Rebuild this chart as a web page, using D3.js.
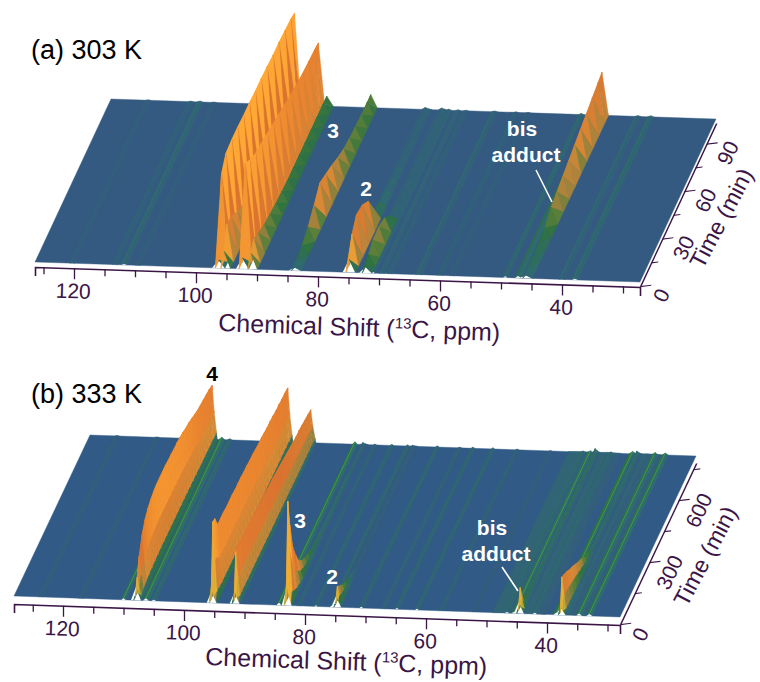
<!DOCTYPE html>
<html>
<head>
<meta charset="utf-8">
<script src="https://cdn.jsdelivr.net/npm/d3@7"></script>
<style>
  html, body { margin: 0; background: #fff; }
  text { font-family: "Liberation Sans", Arial, sans-serif; }
</style>
</head>
<body>
<div id="chart"></div>
<script>
// Tick labels
const ppmTicks = [125,120,115,110,105,100,95,90,85,80,75,70,65,60,55,50,45,40,35,30]
const timeTicksA = [0,15,30,45,60,75,90]
const timeTicksB = [0,150,300,450,600,750]

const timesA = [0,4,10,18,26,34,42,50,58,66,74,82,90,98,103]
const ppmA = [96.3,95.4,92.4,91.0,83.8,74.9,72.2,45.9]
const a965 = [8,88,99,100,100,99,99,98,98,97,96,96,95,94,92]
const a956 = [17,38,36,28,22,16,12,9,7,6,5,5,4,4,4]
const a925 = [11,99,93,87,85,82,79,76,73,70,68,66,65,64,63]
const a912 = [16,24,20,16,14,12,11,10,10,10,10,10,10,10,10]
const a838 = [3,5,9,15,24,34,30,26,21,17,15,14,13,13,13]
const a749 = [13,32,42,39,30,8,4,3,3,2,2,2,2,2,2]
const a722 = [6,12,17,18,14,3,2,2,2,2,2,2,2,2,2]
const a459 = [3,5,6,7,9,17,20,23,26,29,32,35,38,41,43]
// weak lines that stay flat in time: position, strength, half width in ppm
const streakPpmA = [120.3,113.3,111.8,109.5,71.0,69.5,68.2,63.5,60,58,49.3,47.2,40,37.9]
const streakHA = [1,1.5,2.5,1,3,2,1.5,2,1.5,1,3,5,2,3]
const streakWA = [0.4,0.4,0.5,0.4,0.4,0.4,0.4,0.5,0.4,0.4,0.4,0.5,0.5,0.5]

// Panel (b) 333 K
const timesB = [0,10,30,60,90,120,150,180,210,240,270,300,330,360,390,420,450,480,510,540,570,600,630,660,690,720,750,780]
const ppmB = [107.9,95.4,91.6,83.0,74.8,44.6,37.7]
const b1079 = [14,21,38,53,62,67,70,72,73,73,73,73,72,72,71,71,70,69,67,66,64,62,60,59,58,57,56,54]
const b954 = [12,79,78,66,66,66,65,65,65,64,64,64,63,63,62,62,61,60,60,59,58,58,57,56,56,55,55,54]
const b916 = [12,50,52,51,50,50,49,49,48,48,47,47,46,45,45,44,43,42,41,40,39,38,37,37,36,35,34,33]
const b830 = [18,102,74,46,32,20,14,10,8,6,5,4,4,3,3,3,3,3,3,3,3,3,2,2,2,2,2,2]
const b748 = [12,19,15,10,7,4,2,1,1,1,1,1,1,1,1,1,1,1,1,1,1,1,1,1,1,1,1,1]
const b446 = [12,24,8,6,5,5,4,4,4,4,4,4,4,4,4,4,4,4,4,4,4,4,4,4,4,4,4,4]
const b377 = [8,36,34,31,27,24,20,16,13,9,7,4,3,3,3,3,3,3,3,3,3,3,3,3,3,3,3,3]
const streakPpmB = [46.8,42.5,36,123.6,117,110,106.3,105,84.3,81,78.2,75.6,70.7,67,64.8,61.5,57.5,52,46.6,45.4,42,38.4,34.7,33]
const streakHB = [1.6,1.6,1.4,1,1,4,6,3,6,2,3,3,3,2,3,3,2,1,3,4,3,6,5,5]
const streakWB = [2.2,2.2,2.4,0.4,0.4,0.4,0.5,0.4,0.4,0.3,0.3,0.3,0.3,0.3,0.3,0.3,0.3,0.3,0.4,0.5,0.4,0.6,0.5,0.5]

// Colour follows the height of each facet
const colour = d3.scaleLinear()
  .domain([0,2,5,8,11,18,32,50,65])
  .range(['#355a82','#2f6b70','#2e7340','#5a7f3a','#a8823c','#d98a35','#da7230','#ef8c30','#ffa835'])
  .clamp(true)

const ink = '#3a1546'
const svg = d3.select('#chart').append('svg').attr('width', 760).attr('height', 682)

function drawPanel(p) {
  const g = svg.append('g')
  const x = d3.scaleLinear().domain([120,40]).range(p.xRange)
  const front = d3.scaleLinear().domain(p.frontX).range(p.frontY)
  const tx = d3.scaleLinear().domain([0,p.tMax]).range([0,p.depth[0]])
  const ty = d3.scaleLinear().domain([0,p.tMax]).range([0,p.depth[1]])
  const hy = d3.scaleLinear().domain([0,100]).range([0,100])
  const project = (ppm,t,h) => [x(ppm)+tx(t), front(x(ppm))+ty(t)-hy(h)]
  const poly = pts => 'M' + pts.map(d => d.join(',')).join('L') + 'Z'
  const face = (pts,c) => g.append('path').attr('d',poly(pts)).attr('fill',c).attr('stroke',c).attr('stroke-width',0.4)

  // flat sheet
  const ppmL = x.invert(p.frontX[0]), ppmR = x.invert(p.frontX[1])
  face([project(ppmL,0,0),project(ppmR,0,0),project(ppmR,p.tMax,0),project(ppmL,p.tMax,0)], p.sheet)

  // weak lines
  p.streakPpm.forEach((ppm,i) => {
    const h = p.streakH[i], w = p.streakW[i], z = h*0.4
    const a = project(ppm+w,0,0), b = project(ppm,0,z), c = project(ppm-w,0,0)
    const a2 = project(ppm+w,p.tMax,0), b2 = project(ppm,p.tMax,z), c2 = project(ppm-w,p.tMax,0)
    face([a,b,b2,a2], colour(h*0.8))
    face([b,c,c2,b2], colour(h*0.4))
    if (h >= 4 && p.hatch === 0) {
      g.append('line').attr('x1',b[0]).attr('y1',b[1]).attr('x2',b2[0]).attr('y2',b2[1])
        .attr('stroke','#3f9c42').attr('stroke-width',1)
    }
    if (h >= 2.5) g.append('path').attr('d',poly([a,b,c])).attr('fill','#fff')
  })

  // white gap under the first spectrum
  p.peaks.forEach(r => {
    g.append('path').attr('fill','#fff')
      .attr('d',poly([project(r.ppm+p.width,0,0),project(r.ppm,0,r.h[0]),project(r.ppm-p.width,0,0)]))
  })

  // strips from the back to the front, left to right within a strip
  const order = d3.range(p.times.length-2,-1,-1)
  order.forEach(i => {
    p.peaks.forEach(r => {
      p.shape.slice(0,-1).forEach((s,j) => {
        const s2 = p.shape[j+1]
        const t1 = p.times[i], t2 = p.times[i+1]
        const h1 = r.h[i], h2 = r.h[i+1]
        const v = [
          [r.ppm-s[0]*p.width,t1,h1*s[1]],
          [r.ppm-s2[0]*p.width,t1,h1*s2[1]],
          [r.ppm-s2[0]*p.width,t2,h2*s2[1]],
          [r.ppm-s[0]*p.width,t2,h2*s[1]]
        ]
        const quad = d3.mean(v,d => d[2])
        const weight = Math.max(h1,h2) >= 30 ? p.hatch : p.hatch*0.35
        const tri = [[v[0],v[3],v[2]],[v[0],v[2],v[1]]]
        tri.forEach(q => {
          const m = d3.mean(q,d => d[2])
          let c = colour(quad+(m-quad)*weight)
          if (i === 0 && m > 6) c = d3.interpolateRgb(c,p.edgeTint)(0.65)
          face(q.map(d => project(d[0],d[1],d[2])), c)
        })
      })
    })
  })

  // chemical shift axis, sheared so the ticks stay vertical
  const ax = d3.scaleLinear().domain([x.invert(p.frontX[0]),x.invert(p.frontX[1])]).range(p.frontX)
  const slope = (p.frontY[1]-p.frontY[0])/(p.frontX[1]-p.frontX[0])
  const axisX = g.append('g')
    .attr('transform',`matrix(1,${slope},0,1,0,${front(0)+p.axisGap})`)
    .call(d3.axisBottom(ax).tickValues(ppmTicks).tickFormat('').tickSizeOuter(0).tickSize(9))
  axisX.selectAll('.tick line').attr('y2',d => d%20===0 ? 11 : 7).attr('stroke',ink).attr('stroke-width',1.3)
  axisX.select('.domain').attr('stroke',ink).attr('stroke-width',1.6)

  ppmTicks.filter(d => d%20===0).forEach(d => {
    const px = ax(d), py = front(px)+p.axisGap+30
    g.append('text').attr('transform',`translate(${px-1},${py}) rotate(1.9)`)
      .attr('text-anchor','middle').attr('font-size',21).attr('fill',ink).text(d)
  })

  // time axis, sheared so the ticks point to the right
  const len = Math.hypot(p.depth[0],p.depth[1])
  const at = d3.scaleLinear().domain([0,p.tMax]).range([0,len])
  const corner = [p.frontX[1],p.frontY[1]+p.axisGap]
  const axisT = g.append('g')
    .attr('transform',`matrix(${p.depth[0]/len},${p.depth[1]/len},1,-0.12,${corner[0]},${corner[1]})`)
    .call(d3.axisBottom(at).tickValues(p.timeTicks).tickFormat('').tickSizeOuter(0))
  axisT.selectAll('.tick line').attr('y2',d => d%p.timeMajor===0 ? 11 : 7).attr('stroke',ink).attr('stroke-width',1.3)
  axisT.select('.domain').attr('stroke',ink).attr('stroke-width',1.6)

  p.timeTicks.filter(d => d%p.timeMajor===0).forEach(d => {
    const px = corner[0]+tx(d)+p.timeLabel[0], py = corner[1]+ty(d)+p.timeLabel[1]
    g.append('text').attr('transform',`translate(${px},${py}) rotate(-65)`)
      .attr('text-anchor','middle').attr('dominant-baseline','middle')
      .attr('font-size',21).attr('fill',ink).text(d)
  })

  const xTitle = g.append('text').attr('transform',`translate(${p.xTitle[0]},${p.xTitle[1]}) rotate(2)`)
    .attr('text-anchor','middle').attr('font-size',25).attr('fill',ink)
  xTitle.append('tspan').text('Chemical Shift (')
  xTitle.append('tspan').attr('font-size',15).attr('dy',-9).text('13')
  xTitle.append('tspan').attr('dy',9).text('C, ppm)')

  g.append('text').attr('transform',`translate(${p.tTitle[0]},${p.tTitle[1]}) rotate(-62)`)
    .attr('text-anchor','middle').attr('dominant-baseline','middle')
    .attr('font-size',23).attr('fill',ink).text('Time (min)')

  g.append('text').attr('x',31).attr('y',p.titleY).attr('font-size',27).attr('fill','#000').text(p.title)

  p.labels.forEach(l => {
    g.append('text').attr('x',l[1]).attr('y',l[2]).attr('text-anchor','middle')
      .attr('font-size',21).attr('font-weight','bold').attr('fill',l[3]||'#fff').text(l[0])
  })
  g.append('line').attr('x1',p.leader[0]).attr('y1',p.leader[1]).attr('x2',p.leader[2]).attr('y2',p.leader[3])
    .attr('stroke','#fff').attr('stroke-width',1.6)
}

drawPanel({
  title:'(a) 303 K', titleY:59,
  xRange:[74,562], frontX:[35,640], frontY:[262,282], depth:[76,-163], tMax:103,
  times:timesA, sheet:'#355a82', width:1.05, axisGap:5, edgeTint:'#ffa733', hatch:1,
  shape:[[-0.5,0],[0,1],[1,0]],
  peaks:[a965,a956,a925,a912,a838,a749,a722,a459].map((h,i) => ({ppm:ppmA[i],h})),
  streakPpm:streakPpmA, streakH:streakHA, streakW:streakWA,
  timeTicks:timeTicksA, timeMajor:30, timeLabel:[23,9],
  xTitle:[359,336], tTitle:[723,219],
  labels:[['3',333,138],['2',366,196],['bis',522,136],['adduct',526,162]],
  leader:[536,170,552,202]
})

drawPanel({
  title:'(b) 333 K', titleY:403,
  xRange:[63,547], frontX:[14,620], frontY:[596,617], depth:[76,-161], tMax:780,
  times:timesB, sheet:'#315a86', width:0.85, axisGap:8, edgeTint:'#f4c534', hatch:0,
  shape:[[-0.5,0],[-0.15,0.25],[0,1],[0.4,0.5],[0.85,0.12],[1,0]],
  peaks:[b1079,b954,b916,b830,b748,b446,b377].map((h,i) => ({ppm:ppmB[i],h})),
  streakPpm:streakPpmB, streakH:streakHB, streakW:streakWB,
  timeTicks:timeTicksB, timeMajor:300, timeLabel:[22,10],
  xTitle:[346,670], tTitle:[707,557],
  labels:[['4',212,381,'#000'],['3',300,528],['2',332,584],['bis',492,535],['adduct',496,561]],
  leader:[502,567,518,591]
})
</script>
</body>
</html>
